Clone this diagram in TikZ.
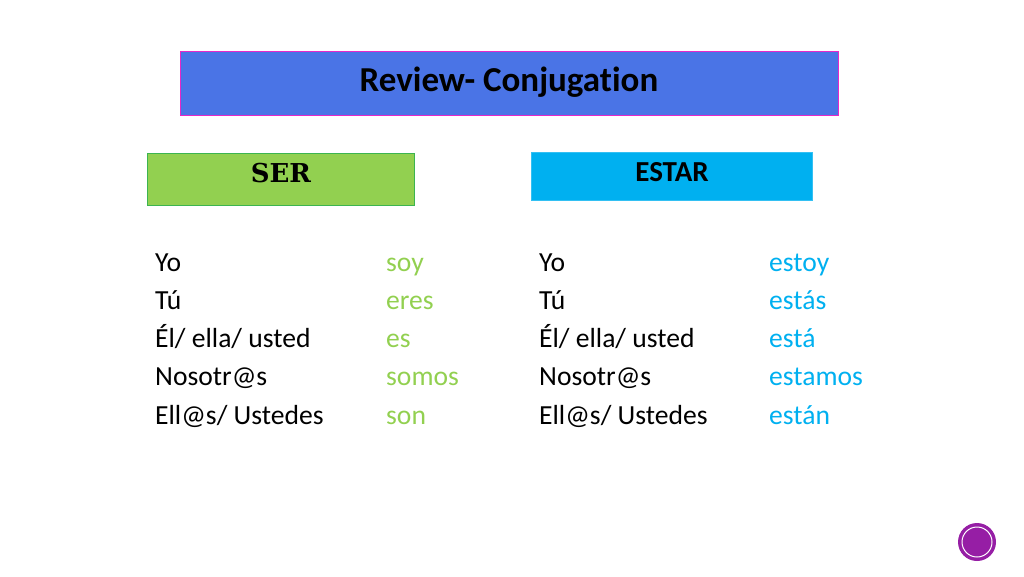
\documentclass[tikz,border=0pt]{standalone}
\usepackage{fontspec}
\setmainfont{Carlito}[Ligatures=NoCommon]
\newfontfamily\serfont{DejaVu Serif}
\definecolor{titleblue}{RGB}{74,116,230}
\definecolor{titlemag}{RGB}{230,40,200}
\definecolor{sergreen}{RGB}{146,208,80}
\definecolor{serline}{RGB}{60,180,80}
\definecolor{estarblue}{RGB}{0,176,240}
\definecolor{dotpurple}{RGB}{150,30,165}

\begin{document}
\begin{tikzpicture}[x=1pt,y=-1pt,
    box/.style={draw,line width=0.8pt,inner sep=0pt},
    word/.style={anchor=base west,inner sep=0pt,font=\fontsize{27.6}{32}\selectfont}]
  \useasboundingbox (0,0) rectangle (1024,576);
  \node[box,draw=titlemag,fill=titleblue,minimum width=658,minimum height=64] (title) at (509,83) {};
  \node[font=\fontsize{35}{40}\selectfont\bfseries] (titlelbl) at (509,82) {Review- Conjugation};
  \node[box,draw=serline,fill=sergreen,minimum width=267,minimum height=52] (serbox) at (280.5,179) {};
  \node[font=\fontsize{26}{30}\selectfont\serfont\bfseries] (serlbl) at (281,173) {SER};
  \node[box,draw=estarblue!80,fill=estarblue,minimum width=281,minimum height=48] (estarbox) at (671.5,176) {};
  \node[font=\fontsize{29}{33}\selectfont\bfseries] (estarlbl) at (672,172) {ESTAR};
  \foreach \i/\pron/\fs/\fe in {0/Yo/soy/estoy,1/Tú/eres/estás,2/{Él/ ella/ usted}/es/está,3/Nosotr@s/somos/estamos,4/{Ell@s/ Ustedes}/son/están} {
    \node[word] (sp\i) at (155,271+38.3*\i) {\pron};
    \node[word,text=sergreen] (sv\i) at (386,271+38.3*\i) {\fs};
    \node[word] (ep\i) at (539,271+38.3*\i) {\pron};
    \node[word,text=estarblue] (ev\i) at (769,271+38.3*\i) {\fe};
  }
  \node[circle,fill=dotpurple,minimum size=38,inner sep=0pt] (dot) at (977,542) {};
  \draw[white,line width=1pt] (dot.center) circle (15);
\end{tikzpicture}
\end{document}
